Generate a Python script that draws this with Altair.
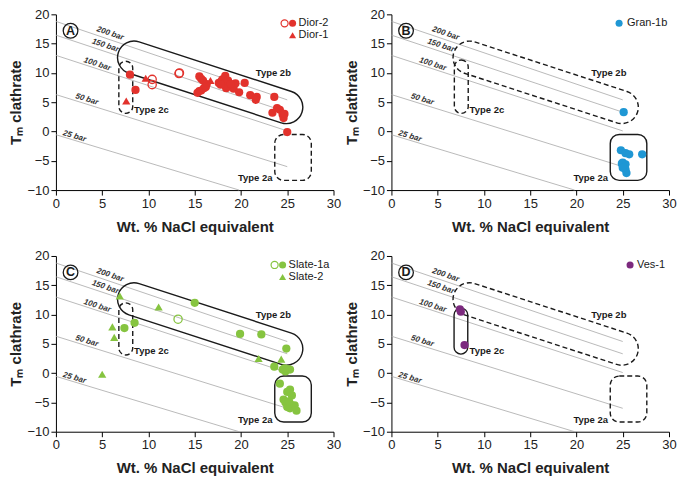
import math
import altair as alt
import pandas as pd

# ---------------- data ----------------
# Panel A
dior2_x = [8.0, 8.6, 15.5, 15.7, 15.9, 15.7, 15.3, 15.5, 16.0, 16.3, 16.2, 17.6, 17.9, 18.0, 18.3,
           18.2, 18.5, 18.6, 18.8, 18.4, 19.0, 19.2, 19.4, 19.8, 20.4, 21.0, 21.7, 21.6, 23.6, 23.9,
           24.2, 23.4, 24.5, 24.6, 24.7, 25.0, 17.8, 18.9]
dior2_y = [9.7, 7.1, 9.4, 9.0, 8.7, 7.0, 6.6, 6.9, 7.4, 8.1, 7.6, 8.3, 8.6, 8.9, 9.5,
           8.2, 8.0, 8.7, 7.8, 7.4, 8.0, 7.3, 8.2, 6.7, 8.3, 6.2, 5.9, 5.4, 5.9, 4.0,
           3.7, 3.2, 2.9, 2.3, 3.0, -0.1, 8.0, 8.1]
dior2_open_x = [10.4, 10.4, 13.3, 13.35]
dior2_open_y = [8.9, 8.0, 9.9, 10.0]
dior1_x = [7.6, 9.7, 16.7]
dior1_y = [5.2, 9.1, 8.7]

# Panel B
gran_x = [25.1, 24.8, 25.3, 25.7, 27.1, 25.0, 25.3, 24.9, 25.2, 25.3, 25.4, 25.0]
gran_y = [3.3, -3.2, -3.7, -3.9, -3.9, -5.3, -5.6, -5.5, -6.0, -6.5, -7.1, -6.2]

# Panel C
slate1a_x = [7.4, 8.5, 15.0, 19.9, 22.2, 24.9, 23.6, 24.5, 24.8, 25.0, 25.3, 24.7, 24.2, 25.3,
             25.0, 25.5, 24.6, 24.8, 25.1, 25.4, 25.0, 25.6, 25.3, 25.8, 26.0, 25.2]
slate1a_y = [7.7, 8.6, 12.0, 6.7, 6.6, 4.2, 1.1, 0.6, 0.3, 0.7, 0.6, 0.8, -1.8, -2.8,
             -3.2, -3.8, -4.5, -5.0, -5.2, -5.4, -5.8, -5.6, -6.0, -5.5, -6.4, -4.8]
slate1a_open_x = [13.2]
slate1a_open_y = [9.2]
slate2_x = [6.9, 11.1, 6.1, 6.3, 5.0, 21.9, 24.35]
slate2_y = [13.2, 11.3, 7.9, 6.1, -0.2, 2.5, 2.4]

# Panel D
ves_x = [7.4, 7.5, 7.9]
ves_y = [10.9, 10.5, 4.8]

# Isobars
isobar_names = ["200 bar", "150 bar", "100 bar", "50 bar", "25 bar"]
isobar_x0 = [0, 0, 0, 0, 0]
isobar_y0 = [18.8, 16.45, 13.0, 6.3, -0.55]
isobar_x1 = [25, 25, 25, 25, 19.8]
isobar_y1 = [5.4, 3.3, 0.1, -6.0, -10]
isobar_label_x = [5.86, 5.33, 4.46, 3.34, 2.0]
isobar_label_y = [16.7, 14.65, 11.45, 5.45, -0.85]

x_ticks = [0, 5, 10, 15, 20, 25, 30]
y_ticks = [-10, -5, 0, 5, 10, 15, 20]

# ---------------- styling / layout ----------------
W, H = 278, 176
FONT = "Liberation Sans"
INK = "#1a1a1a"
XS = alt.Scale(domain=[0, 30], nice=False, zero=False)
YS = alt.Scale(domain=[-10, 20], nice=False, zero=False)
PXX = W / 30.0
PXY = H / 30.0


def xenc(field="x"):
    return alt.X(f"{field}:Q", scale=XS,
                 axis=alt.Axis(values=x_ticks, title="Wt. % NaCl equivalent"))


def yenc(field="y"):
    return alt.Y(f"{field}:Q", scale=YS,
                 axis=alt.Axis(values=y_ticks, title="Tₘ clathrate"))


# isobar lines & labels
iso_rows = []
for n, a, b, c, d in zip(isobar_names, isobar_x0, isobar_y0, isobar_x1, isobar_y1):
    iso_rows.append({"bar": n, "x": a, "y": b})
    iso_rows.append({"bar": n, "x": c, "y": d})
iso_df = pd.DataFrame(iso_rows)
iso_lab = pd.DataFrame({
    "t": isobar_names, "x": isobar_label_x, "y": isobar_label_y,
    "angle": [math.degrees(math.atan2((b - d) * PXY, (c - a) * PXX))
              for a, b, c, d in zip(isobar_x0, isobar_y0, isobar_x1, isobar_y1)],
})

# capsule (Type 2b) geometry
CAP_L = (8.44, 12.62)
CAP_R = (24.9, 4.16)
CAP_RAD = 16.5  # px
dxp = (CAP_R[0] - CAP_L[0]) * PXX
dyp = (CAP_L[1] - CAP_R[1]) * PXY
cap_len = math.hypot(dxp, dyp)
cap_angle = math.degrees(math.atan2(dyp, dxp))
half = cap_len / 2 + CAP_RAD
a = (cap_len / 2) / half
r = CAP_RAD / half
k = 0.5523 * r


def f(v):
    return f"{v:.4f}"


cap_path = (
    f"M{f(-a)},{f(-r)} L{f(a)},{f(-r)} "
    f"C{f(a + k)},{f(-r)} {f(a + r)},{f(-k)} {f(a + r)},0 "
    f"C{f(a + r)},{f(k)} {f(a + k)},{f(r)} {f(a)},{f(r)} "
    f"L{f(-a)},{f(r)} "
    f"C{f(-a - k)},{f(r)} {f(-a - r)},{f(k)} {f(-a - r)},0 "
    f"C{f(-a - r)},{f(-k)} {f(-a - k)},{f(-r)} {f(-a)},{f(-r)} Z"
)
cap_size = (2 * half) ** 2
cap_df = pd.DataFrame({"x": [(CAP_L[0] + CAP_R[0]) / 2], "y": [(CAP_L[1] + CAP_R[1]) / 2]})

DASH = [5, 3]


def stroke_kw(dashed):
    kw = dict(stroke=INK, strokeWidth=1.4)
    if dashed:
        kw["strokeDash"] = DASH
    return kw


def panel(letter, series, legend, dash_b, dash_c, dash_a, c_box):
    layers = []
    layers.append(alt.Chart(iso_df).mark_line(color="#a8a8a8", strokeWidth=0.8)
                  .encode(x=xenc(), y=yenc(), detail="bar:N"))
    layers.append(alt.Chart(iso_lab).mark_text(font=FONT, fontSize=8, fontWeight="bold",
                                               fontStyle="italic", color="#333")
                  .encode(x=xenc(), y=yenc(), text="t:N", angle=alt.Angle("angle:Q", scale=None)))
    # Type 2b capsule
    layers.append(alt.Chart(cap_df).mark_point(shape=cap_path, size=cap_size, angle=cap_angle,
                                               filled=False, opacity=1, **stroke_kw(dash_b))
                  .encode(x=xenc(), y=yenc()))
    # Type 2c box
    c_df = pd.DataFrame({"x": [c_box[0]], "x2": [c_box[1]], "y": [c_box[2]], "y2": [c_box[3]]})
    layers.append(alt.Chart(c_df).mark_rect(cornerRadius=7, fillOpacity=0, **stroke_kw(dash_c))
                  .encode(x=xenc(), x2="x2:Q", y=yenc(), y2="y2:Q"))
    # Type 2a box
    a_df = pd.DataFrame({"x": [23.65], "x2": [27.6], "y": [-8.35], "y2": [-0.5]})
    layers.append(alt.Chart(a_df).mark_rect(cornerRadius=9, fillOpacity=0, **stroke_kw(dash_a))
                  .encode(x=xenc(), x2="x2:Q", y=yenc(), y2="y2:Q"))
    # region labels
    lab = [("Type 2b", 23.5, 10.0, "center"), ("Type 2c", 8.45, 3.7, "left"),
           ("Type 2a", 23.4, -8.0, "right")]
    for t, lx, ly, al in lab:
        layers.append(alt.Chart(pd.DataFrame({"t": [t], "x": [lx], "y": [ly]}))
                      .mark_text(font=FONT, fontSize=9.5, fontWeight="bold", color=INK, align=al)
                      .encode(x=xenc(), y=yenc(), text="t:N"))
    # data series
    for xs, ys, shape, filled, color in series:
        df = pd.DataFrame({"x": xs, "y": ys})
        kw = dict(shape=shape, filled=filled, color=color, opacity=1, size=68)
        if not filled:
            kw["strokeWidth"] = 1.3
        layers.append(alt.Chart(df).mark_point(**kw).encode(x=xenc(), y=yenc()))
    # panel letter
    layers.append(alt.Chart(pd.DataFrame({"x": [1.58], "y": [17.2]}))
                  .mark_point(shape="circle", size=215, filled=False, color=INK, strokeWidth=1.3, opacity=1)
                  .encode(x=xenc(), y=yenc()))
    layers.append(alt.Chart(pd.DataFrame({"t": [letter], "x": [1.58], "y": [17.2]}))
                  .mark_text(font=FONT, fontSize=12.5, fontWeight="bold", color=INK)
                  .encode(x=xenc(), y=yenc(), text="t:N"))
    # legend
    one = pd.DataFrame({"d": [0]})
    for kind, px, py, color, extra in legend:
        if kind == "text":
            layers.append(alt.Chart(pd.DataFrame({"t": [extra]}))
                          .mark_text(font=FONT, fontSize=11, color=INK, align="left")
                          .encode(x=alt.value(px), y=alt.value(py), text="t:N"))
        else:
            shape, filled = kind
            kw = dict(shape=shape, filled=filled, color=color, opacity=1, size=50)
            if not filled:
                kw["strokeWidth"] = 1.2
            layers.append(alt.Chart(one).mark_point(**kw)
                          .encode(x=alt.value(px), y=alt.value(py)))
    return alt.layer(*layers).properties(width=W, height=H)


RED = "#e2322c"
BLUE = "#1f97d4"
GREEN = "#86c440"
PURPLE = "#7c2a7e"

A = panel("A",
          [(dior2_x, dior2_y, "circle", True, RED),
           (dior2_open_x, dior2_open_y, "circle", False, RED),
           (dior1_x, dior1_y, "triangle-up", True, RED)],
          [(("circle", False), 229, 9, RED, None), (("circle", True), 237, 9, RED, None),
           ("text", 243, 9, None, "Dior-2"),
           (("triangle-up", True), 237, 21, RED, None), ("text", 243, 21, None, "Dior-1")],
          dash_b=False, dash_c=True, dash_a=True, c_box=(6.8, 8.3, 3.1, 12.0))
B = panel("B",
          [(gran_x, gran_y, "circle", True, BLUE)],
          [(("circle", True), 228, 9, BLUE, None), ("text", 236, 9, None, "Gran-1b")],
          dash_b=True, dash_c=True, dash_a=False, c_box=(6.8, 8.3, 3.1, 12.2))
C = panel("C",
          [(slate1a_x, slate1a_y, "circle", True, GREEN),
           (slate1a_open_x, slate1a_open_y, "circle", False, GREEN),
           (slate2_x, slate2_y, "triangle-up", True, GREEN)],
          [(("circle", False), 219, 9, GREEN, None), (("circle", True), 227, 9, GREEN, None),
           ("text", 233, 9, None, "Slate-1a"),
           (("triangle-up", True), 227, 21, GREEN, None), ("text", 233, 21, None, "Slate-2")],
          dash_b=False, dash_c=True, dash_a=False, c_box=(6.8, 8.3, 3.1, 12.0))
D = panel("D",
          [(ves_x, ves_y, "circle", True, PURPLE)],
          [(("circle", True), 239, 9, PURPLE, None), ("text", 246, 9, None, "Ves-1")],
          dash_b=True, dash_c=False, dash_a=True, c_box=(6.77, 8.25, 3.25, 11.1))

chart = (
    alt.concat(A, B, C, D, columns=2, spacing={"row": 66, "column": 58}, bounds="flush")
    .properties(padding=0)
    .configure_view(stroke=None)
    .configure_axis(domainColor="black", tickColor="black", tickSize=5, grid=False,
                    labelFont=FONT, labelFontSize=13, labelColor="#222", labelPadding=2,
                    labelFlush=False, labelOverlap=False,
                    titleFont=FONT, titleFontSize=15, titleFontWeight="bold", titleColor="#222")
    .configure_axisY(titlePadding=3)
    .configure_axisX(titlePadding=9)
)

chart.save("out.html", embed_options={"renderer": "svg", "actions": False})
